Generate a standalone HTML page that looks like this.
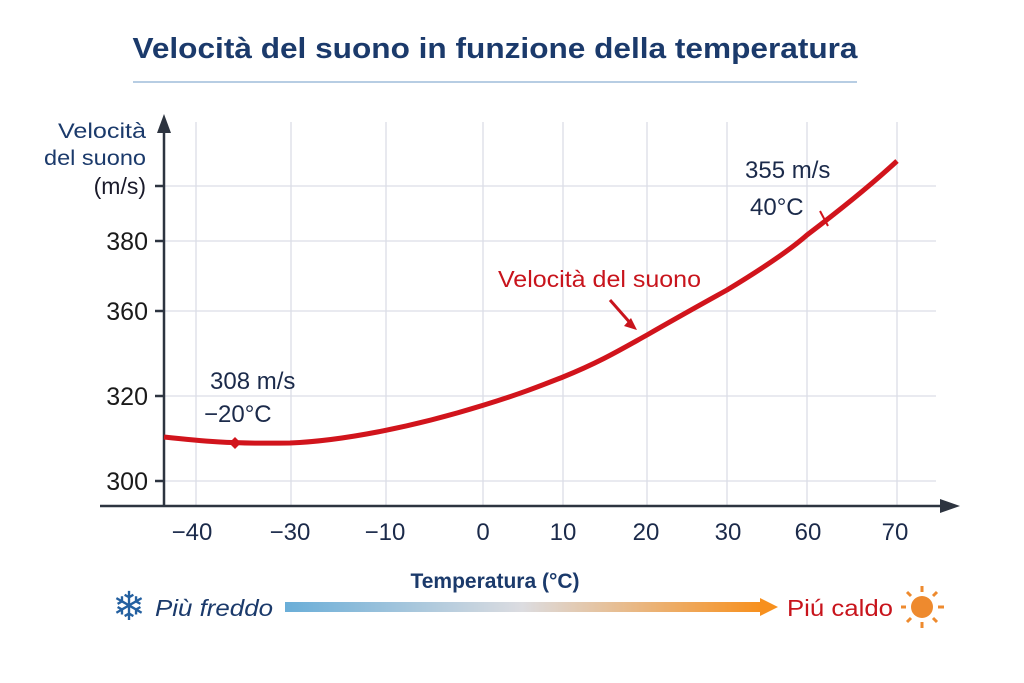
<!DOCTYPE html>
<html><head><meta charset="utf-8"><style>
body{margin:0;background:#fff;}
svg{display:block;font-family:"Liberation Sans",sans-serif;}
</style></head><body>
<svg width="1024" height="683" viewBox="0 0 1024 683">
<defs>
<linearGradient id="g" x1="0" x2="1"><stop offset="0" stop-color="#6aaed8"/><stop offset="0.5" stop-color="#dcdce0"/><stop offset="1" stop-color="#f7901e"/></linearGradient>
</defs>
<text x="495" y="58" text-anchor="middle" font-size="29" font-weight="bold" fill="#1b3a6b" textLength="725" lengthAdjust="spacingAndGlyphs">Velocità del suono in funzione della temperatura</text>
<line x1="133" y1="82" x2="857" y2="82" stroke="#b7cde3" stroke-width="2"/>
<g stroke="#dcdde6" stroke-width="1.3">
<line x1="196" y1="122" x2="196" y2="506"/><line x1="291" y1="122" x2="291" y2="506"/><line x1="386" y1="122" x2="386" y2="506"/><line x1="483" y1="122" x2="483" y2="506"/><line x1="563" y1="122" x2="563" y2="506"/><line x1="647" y1="122" x2="647" y2="506"/><line x1="727" y1="122" x2="727" y2="506"/><line x1="807" y1="122" x2="807" y2="506"/><line x1="897" y1="122" x2="897" y2="506"/>
<line x1="164" y1="186" x2="936" y2="186"/><line x1="164" y1="241" x2="936" y2="241"/><line x1="164" y1="311" x2="936" y2="311"/><line x1="164" y1="396" x2="936" y2="396"/><line x1="164" y1="481" x2="936" y2="481"/>
</g>
<g stroke="#2d3440" stroke-width="2.5">
<line x1="164" y1="128" x2="164" y2="506"/><line x1="100" y1="506" x2="945" y2="506"/>
<line x1="155" y1="241" x2="164" y2="241"/><line x1="155" y1="311" x2="164" y2="311"/><line x1="155" y1="396" x2="164" y2="396"/><line x1="155" y1="481" x2="164" y2="481"/><line x1="155" y1="186" x2="164" y2="186"/>
</g>
<polygon points="164,114 157,133 171,133" fill="#2d3440"/>
<polygon points="960,506 940,499 940,513" fill="#2d3440"/>
<g font-size="21" fill="#1b3a6b" text-anchor="end">
<text x="146" y="138" textLength="88" lengthAdjust="spacingAndGlyphs">Velocità</text><text x="146" y="165" textLength="102" lengthAdjust="spacingAndGlyphs">del suono</text><text x="146" y="194" font-size="23" fill="#1a1a2a">(m/s)</text></g>
<g font-size="25" fill="#1a1a1a" text-anchor="end">
<text x="148" y="250">380</text><text x="148" y="320">360</text><text x="148" y="405">320</text><text x="148" y="490">300</text></g>
<g font-size="24" fill="#1b2a4a" text-anchor="middle">
<text x="192" y="540">−40</text><text x="290" y="540">−30</text><text x="385" y="540">−10</text><text x="483" y="540">0</text><text x="563" y="540">10</text><text x="646" y="540">20</text><text x="728" y="540">30</text><text x="808" y="540">60</text><text x="895" y="540">70</text></g>
<path d="M164,437 C200,441 230,444 290,443 C340,441 410,428 484,405 C520,394 540,386 563,377 C600,362 620,350 647,335 C680,316 700,305 727,290 C760,270 790,250 807,235 C840,210 870,186 897,161" fill="none" stroke="#d1141c" stroke-width="5"/>
<polygon points="235,437 241,443 235,449 229,443" fill="#d1141c"/>
<line x1="820" y1="211" x2="828" y2="226" stroke="#d1141c" stroke-width="2"/>
<g font-size="24" fill="#1b2a4a"><text x="210" y="389">308 m/s</text><text x="204" y="422">−20°C</text><text x="745" y="178">355 m/s</text><text x="750" y="215">40°C</text></g>
<text x="498" y="287" font-size="23" fill="#c8141c" textLength="203" lengthAdjust="spacingAndGlyphs">Velocità del suono</text>
<line x1="610" y1="300" x2="632" y2="325" stroke="#c8141c" stroke-width="3"/>
<polygon points="637,330 624,326 631,318" fill="#c8141c"/>
<text x="495" y="588" text-anchor="middle" font-size="21" font-weight="bold" fill="#1b3a6b">Temperatura (°C)</text>
<text x="129" y="620" text-anchor="middle" font-size="40" fill="#2460a0">❄</text>
<text x="155" y="616" font-size="23" fill="#1b3a6b" font-style="italic" textLength="118" lengthAdjust="spacingAndGlyphs">Più freddo</text>
<rect x="285" y="602" width="475" height="10" fill="url(#g)"/>
<polygon points="778,607 760,598 760,616" fill="#f7901e"/>
<text x="787" y="616" font-size="23" fill="#c8141c" textLength="106" lengthAdjust="spacingAndGlyphs">Piú caldo</text>
<circle cx="922" cy="607" r="11" fill="#ee8a2e"/>
<g stroke="#ee8a2e" stroke-width="3"><line x1="922" y1="586" x2="922" y2="592"/><line x1="922" y1="622" x2="922" y2="628"/><line x1="901" y1="607" x2="906" y2="607"/><line x1="938" y1="607" x2="944" y2="607"/><line x1="907" y1="592" x2="911" y2="596"/><line x1="933" y1="618" x2="937" y2="622"/><line x1="937" y1="592" x2="933" y2="596"/><line x1="911" y1="618" x2="907" y2="622"/></g>
</svg>
</body></html>
